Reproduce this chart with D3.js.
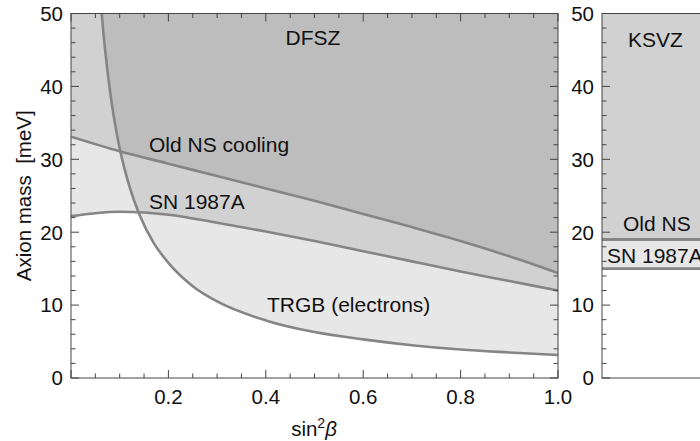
<!DOCTYPE html>
<html>
<head>
<meta charset="utf-8">
<script src="https://cdn.jsdelivr.net/npm/d3@7"></script>
<style>
  body { margin: 0; background: #fff; }
  text { font-family: "Liberation Sans", Arial, sans-serif; fill: #111; }
</style>
</head>
<body>
<div id="chart"></div>
<script>
// values (x = sin^2 beta, y = axion mass in meV)
const trgbX = [0.055, 0.063, 0.07, 0.08, 0.09, 0.1, 0.12, 0.14, 0.17, 0.2, 0.25, 0.3, 0.4, 0.5, 0.6, 0.7, 0.8, 0.9, 1.0];
const trgbM = [57, 50, 45, 39.4, 35, 31.5, 26.3, 22.5, 18.5, 15.8, 12.6, 10.5, 7.9, 6.3, 5.3, 4.5, 3.9, 3.5, 3.15];

const oldNsX = [0, 0.1, 0.2, 0.3, 0.4, 0.5, 0.6, 0.7, 0.8, 0.9, 1.0];
const oldNsM = [33.1, 31.1, 29.4, 27.7, 26.0, 24.3, 22.5, 20.7, 18.8, 16.7, 14.4];

const snX = [0, 0.05, 0.1, 0.15, 0.2, 0.3, 0.4, 0.5, 0.6, 0.7, 0.8, 0.9, 1.0];
const snM = [22.2, 22.6, 22.8, 22.7, 22.4, 21.3, 20.1, 18.8, 17.4, 16.0, 14.6, 13.3, 12.0];

// KSVZ: flat bounds
const ksvzBounds = [
  { name: "Old NS", m: 19 },
  { name: "SN 1987A", m: 15 }
];

const xTicks = [0.2, 0.4, 0.6, 0.8, 1.0];
const yTicks = [0, 10, 20, 30, 40, 50];

const width = 700, height = 441;
const plotTop = 13.5, plotBottom = 378;
const fontSize = 20.5;
const labelSize = 21;
const lineColor = "#858585";
const shade = 0.095;

const svg = d3.select("#chart")
  .append("svg")
  .attr("width", width)
  .attr("height", height)
  .attr("viewBox", [0, 0, width, height]);

const y = d3.scaleLinear().domain([0, 50]).range([plotBottom, plotTop]);
const xL = d3.scaleLinear().domain([0, 1]).range([71, 558]);
const xR = d3.scaleLinear().domain([0, 1]).range([602, 1089]);

const defs = svg.append("defs");
function addClip(id, x) {
  defs.append("clipPath").attr("id", id)
    .append("rect")
    .attr("x", x.range()[0]).attr("y", plotTop)
    .attr("width", x.range()[1] - x.range()[0])
    .attr("height", plotBottom - plotTop);
}
addClip("clipL", xL);
addClip("clipR", xR);

const toPts = (xs, ms) => xs.map((v, i) => ({ x: v, m: ms[i] }));

// ---------- left panel: DFSZ ----------
const gL = svg.append("g").attr("clip-path", "url(#clipL)");

const curves = [toPts(trgbX, trgbM), toPts(oldNsX, oldNsM), toPts(snX, snM)];

const areaL = d3.area()
  .x(d => xL(d.x))
  .y0(d => y(d.m))
  .y1(y(60))
  .curve(d3.curveMonotoneX);

const lineL = d3.line()
  .x(d => xL(d.x))
  .y(d => y(d.m))
  .curve(d3.curveMonotoneX);

gL.selectAll("path.excl")
  .data(curves)
  .enter()
  .append("path")
  .attr("class", "excl")
  .attr("d", areaL)
  .attr("fill", "#000")
  .attr("fill-opacity", shade);

gL.selectAll("path.bound")
  .data(curves)
  .enter()
  .append("path")
  .attr("class", "bound")
  .attr("d", lineL)
  .attr("fill", "none")
  .attr("stroke", lineColor)
  .attr("stroke-width", 2.6);

// ---------- right panel: KSVZ ----------
const gR = svg.append("g").attr("clip-path", "url(#clipR)");

gR.selectAll("rect.excl")
  .data(ksvzBounds)
  .enter()
  .append("rect")
  .attr("class", "excl")
  .attr("x", xR(0))
  .attr("width", xR(1) - xR(0))
  .attr("y", y(50))
  .attr("height", d => y(d.m) - y(50))
  .attr("fill", "#000")
  .attr("fill-opacity", shade);

gR.selectAll("line.bound")
  .data(ksvzBounds)
  .enter()
  .append("line")
  .attr("class", "bound")
  .attr("x1", xR(0)).attr("x2", xR(1))
  .attr("y1", d => y(d.m)).attr("y2", d => y(d.m))
  .attr("stroke", lineColor)
  .attr("stroke-width", 2.8);

// ---------- frames with inward Mathematica-style ticks ----------
function drawFrame(x, xMajor, xMinor, showXLabels) {
  const g = svg.append("g");
  const [x0, x1] = x.range();
  const frameColor = "#444";

  g.append("rect")
    .attr("x", x0).attr("y", plotTop)
    .attr("width", x1 - x0).attr("height", plotBottom - plotTop)
    .attr("fill", "none")
    .attr("stroke", frameColor)
    .attr("stroke-width", 1);

  const yMinor = d3.range(0, 50.01, 2);
  const yMajorSet = new Set(yTicks);

  yMinor.forEach(v => {
    const len = yMajorSet.has(v) ? 8 : 4.5;
    g.append("line").attr("x1", x0).attr("x2", x0 + len)
      .attr("y1", y(v)).attr("y2", y(v)).attr("stroke", frameColor);
    g.append("line").attr("x1", x1).attr("x2", x1 - len)
      .attr("y1", y(v)).attr("y2", y(v)).attr("stroke", frameColor);
  });

  g.selectAll("text.ylab")
    .data(yTicks)
    .enter()
    .append("text")
    .attr("class", "ylab")
    .attr("x", x0 - 8)
    .attr("y", d => y(d))
    .attr("dy", "0.36em")
    .attr("text-anchor", "end")
    .attr("font-size", fontSize)
    .text(d => d);

  xMinor.forEach(v => {
    const isMajor = xMajor.some(t => Math.abs(t - v) < 1e-6);
    const len = isMajor ? 8 : 4.5;
    g.append("line").attr("x1", x(v)).attr("x2", x(v))
      .attr("y1", plotBottom).attr("y2", plotBottom - len).attr("stroke", frameColor);
    g.append("line").attr("x1", x(v)).attr("x2", x(v))
      .attr("y1", plotTop).attr("y2", plotTop + len).attr("stroke", frameColor);
  });

  if (showXLabels) {
    g.selectAll("text.xlab")
      .data(xMajor.filter(v => v > 0))
      .enter()
      .append("text")
      .attr("class", "xlab")
      .attr("x", d => x(d))
      .attr("y", 404)
      .attr("text-anchor", "middle")
      .attr("font-size", fontSize)
      .text(d => d3.format(".1f")(d));
  }
}

drawFrame(xL, [0, ...xTicks], d3.range(0, 1.0001, 0.05), true);
drawFrame(xR, [], [], false);

// ---------- labels ----------
const label = (x, yy, txt, anchor = "start") =>
  svg.append("text")
    .attr("x", x).attr("y", yy)
    .attr("text-anchor", anchor)
    .attr("font-size", labelSize)
    .text(txt);

label(313, 45, "DFSZ", "middle");
label(149, 152, "Old NS cooling");
label(149, 209, "SN 1987A");
label(267, 312, "TRGB (electrons)");

label(628, 47, "KSVZ");
svg.append("g").attr("clip-path", "url(#clipR)")
  .selectAll("text")
  .data(ksvzBounds)
  .enter()
  .append("text")
  .attr("x", (d, i) => i === 0 ? 623 : 607)
  .attr("y", (d, i) => y(d.m) - (i === 0 ? 8 : 6))
  .attr("font-size", labelSize)
  .text(d => d.name);

// axis titles
svg.append("text")
  .attr("transform", `translate(31,${(plotTop + plotBottom) / 2}) rotate(-90)`)
  .attr("text-anchor", "middle")
  .attr("font-size", fontSize)
  .attr("xml:space", "preserve")
  .text("Axion mass  [meV]");

const xTitle = svg.append("text")
  .attr("x", 314)
  .attr("y", 436)
  .attr("text-anchor", "middle")
  .attr("font-size", fontSize);
xTitle.append("tspan").text("sin");
xTitle.append("tspan").attr("dy", -8).attr("font-size", 14).text("2");
xTitle.append("tspan").attr("dy", 8).attr("font-style", "italic").text("β");
</script>
</body>
</html>
